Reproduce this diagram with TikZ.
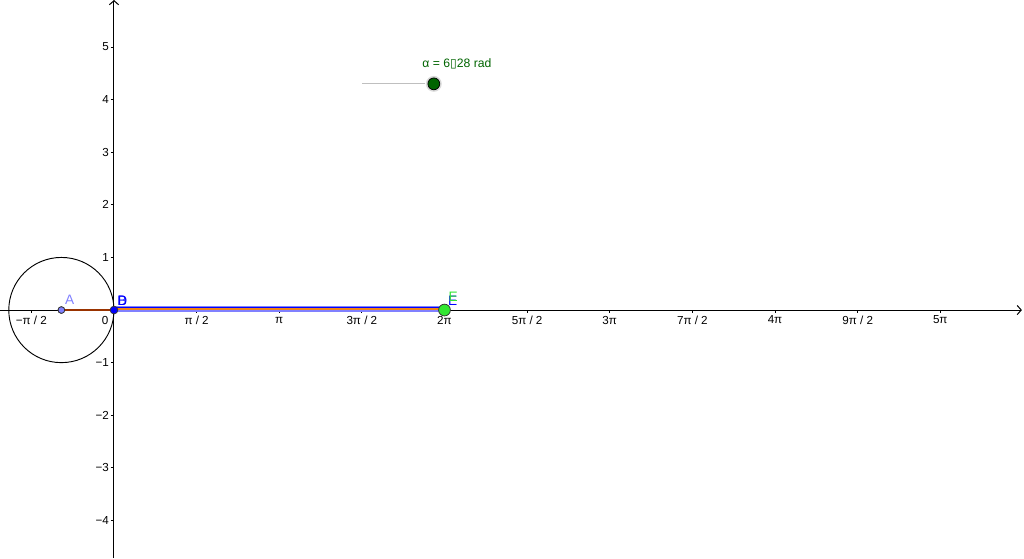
\documentclass[tikz,border=0pt]{standalone}
\usepackage{fontspec}
\setmainfont{Liberation Sans}
\newfontfamily\symfont{DejaVu Sans}
\usepackage{tikz}
\usetikzlibrary{arrows.meta}

\definecolor{segbrown}{RGB}{153,51,0}
\definecolor{segorange}{RGB}{240,130,20}
\definecolor{lavender}{RGB}{128,128,255}
\definecolor{ptblue}{RGB}{0,0,255}
\definecolor{ptgreen}{RGB}{50,230,50}
\definecolor{slidergreen}{RGB}{0,100,0}

\begin{document}
\begin{tikzpicture}

% Fix the frame of the picture
\useasboundingbox (-2.167,-4.715) rectangle (17.30,5.894);

% Define styles for axes, ticks and points
\tikzstyle{axis} = [line width=0.55pt, -{Straight Barb[length=2.2pt,width=5pt]}]
\tikzstyle{tick} = [line width=0.5pt]
\tikzstyle{ticklabel} = [inner sep=0pt, font=\fontsize{6.3}{7}\selectfont]
\tikzstyle{ptlabel} = [inner sep=0pt, font=\fontsize{7.4}{8}\selectfont]
\tikzstyle{point} = [circle, draw=black!80, line width=0.4pt, inner sep=0pt]

% Axes
\coordinate (O) at (0,0);
\coordinate (xend) at (17.26,0);
\coordinate (ytop) at (0,5.894);
\coordinate (ybot) at (0,-4.715);
\draw[axis] (O) -- (xend);
\draw[axis] (ybot) -- (ytop);
\draw[line width=0.55pt] (-2.167,0) -- (O);

% Ticks on the x axis
\foreach \k/\lab in {-1/{−π / 2}, 1/{π / 2}, 2/{π}, 3/{3π / 2}, 4/{2π},
  5/{5π / 2}, 6/{3π}, 7/{7π / 2}, 8/{4π}, 9/{9π / 2}, 10/{5π}}{
  \draw[tick] ({\k*pi/2},0) -- ({\k*pi/2},-0.06);
  \node[ticklabel] (xl\k) at ({\k*pi/2},-0.19) {\lab};
}
\node[ticklabel] (xl0) at (-0.17,-0.19) {0};

% Ticks on the y axis
\foreach \k/\lab in {-4/−4, -3/−3, -2/−2, -1/−1, 1/1, 2/2, 3/3, 4/4, 5/5}{
  \draw[tick] (-0.06,\k) -- (0,\k);
  \node[ticklabel, anchor=east] (yl\k) at (-0.09,\k) {\lab};
}

% Circle round A
\node[point, minimum size=3.6pt, fill=lavender] (A) at (-1,0) {};
\draw[line width=0.5pt] (A.center) circle (1);

% Segments
\coordinate (E0) at ({2*pi},0);
\draw[segbrown, line width=1.1pt] (A.center) -- (O);
\draw[lavender, line width=3.2pt] ([yshift=0.8pt]O) -- ([yshift=0.8pt]E0);
\draw[ptblue, line width=0.55pt] ([yshift=1.6pt]O) -- ([yshift=1.6pt]E0);
\draw[segorange, line width=1.1pt] ([yshift=0.8pt]O) -- ([yshift=0.8pt]E0);

% Points
\node[point, minimum size=4.2pt, fill=ptblue] (B) at (O) {};
\node[point, minimum size=6.4pt, fill=ptgreen] (E) at (E0) {};
\node[point, minimum size=3.6pt, fill=lavender] at (A) {};

% Labels of the points
\node[ptlabel, text=lavender] (Alab) at (-0.84,0.19) {A};
\node[ptlabel, text=ptblue] (Blab) at (0.16,0.18) {B};
\node[ptlabel, text=ptblue] (Dlab) at (0.16,0.18) {D};
\node[ptlabel, text=ptblue] (Elab2) at (6.44,0.17) {E};
\node[ptlabel, text=ptgreen] (Elab) at (6.45,0.25) {E};

% Slider
\coordinate (sl) at (4.72,4.30);
\node[circle, fill=black!15, inner sep=0pt, minimum size=8.6pt] (halo) at (6.08,4.30) {};
\draw[black!25, line width=0.5pt] (sl) -- (halo.west);
\node[point, draw=black, fill=slidergreen, minimum size=6.4pt] (alpha) at (halo) {};
\node[inner sep=0pt, text=slidergreen, font=\fontsize{6.6}{8}\selectfont] (alab) at (6.52,4.68)
  {α = 6{\symfont\fontsize{6.6}{8}\selectfont ▯}28 rad};

\end{tikzpicture}
\end{document}
